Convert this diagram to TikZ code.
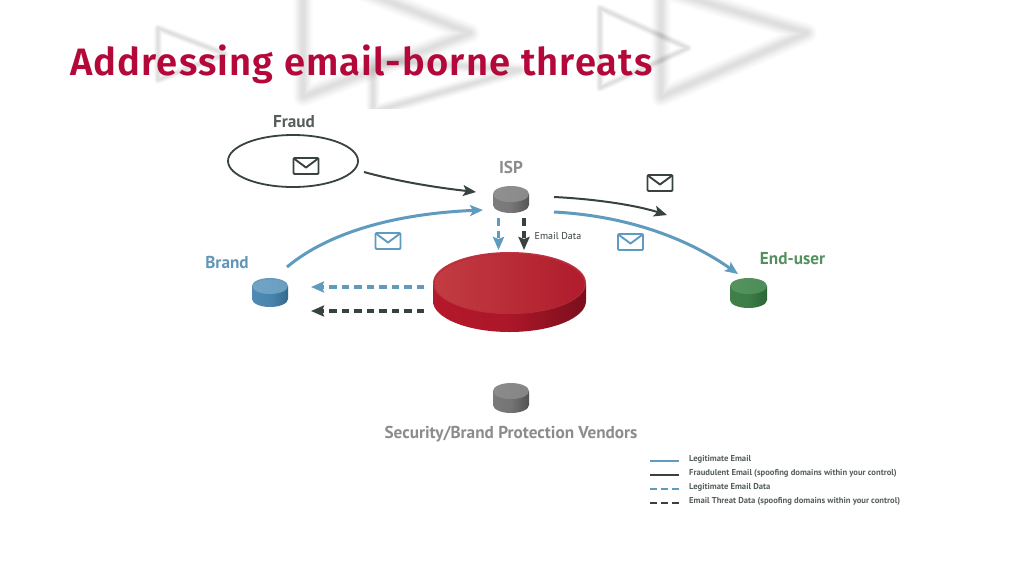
\documentclass[tikz,border=0pt]{standalone}
\usepackage{fontspec}
\setmainfont{PT Sans}
\newfontfamily\titlefont[BoldFont={Fira Sans SemiBold},LetterSpace=3]{Fira Sans}
\usetikzlibrary{arrows.meta,shapes.geometric}
\definecolor{titlered}{HTML}{B5083A}
\definecolor{linkblue}{HTML}{5F9ABF}
\definecolor{linkdark}{HTML}{38423F}
\definecolor{isptext}{HTML}{8C8C8C}
\definecolor{brandtext}{HTML}{6296B8}
\definecolor{usertext}{HTML}{54905F}
\definecolor{storetopl}{HTML}{C23C42}
\definecolor{storetopr}{HTML}{B01C2C}
\tikzset{
  solidlink/.style={draw=#1,line width=2pt,-{Stealth[length=13pt,width=11pt,inset=3pt]}},
  dashlink/.style={draw=#1,line width=3.2pt,dash pattern=on 7.5pt off 5pt,-{Stealth[length=13pt,width=11pt,inset=2pt]}},
  legendsolid/.style={draw=#1,line width=2pt},
  legenddash/.style={draw=#1,line width=2pt,dash pattern=on 7pt off 4pt},
  legendtext/.style={anchor=west,inner sep=0pt,font=\fontsize{8.6}{10}\selectfont\bfseries,text=#1},
  labeltext/.style={inner sep=0pt,font=\fontsize{17.2}{20}\selectfont\bfseries,text=#1},
  envelope/.style={draw=#1,line width=1.9pt,rounded corners=1pt,line join=round},
}
% name, cx, cy of top ellipse, rx, ry, height, side light, side dark, top colour
\newcommand{\cylshape}[9]{%
  \definecolor{cylA}{HTML}{#7}\definecolor{cylB}{HTML}{#8}\definecolor{cylC}{HTML}{#9}%
  \node[inner sep=0pt,minimum width=#4*2pt,minimum height=#5*2pt+#6pt] (#1) at (#2,#3+#6/2) {};
  \path[left color=cylA,right color=cylB,middle color=cylA!85!cylB]
    (#2-#4,#3) -- (#2-#4,#3+#6)
    .. controls (#2-#4,#3+#6+0.55*#5) and (#2-0.55*#4,#3+#6+#5) .. (#2,#3+#6+#5)
    .. controls (#2+0.55*#4,#3+#6+#5) and (#2+#4,#3+#6+0.55*#5) .. (#2+#4,#3+#6)
    -- (#2+#4,#3) -- cycle;
  \path[fill=cylA!88!white] (#2,#3) ellipse [x radius=#4,y radius=#5];
  \path[left color=cylC!95!white,right color=cylC] (#2,#3+0.6) ellipse [x radius=#4-1,y radius=#5-0.8];
}
\newcommand{\envshape}[3]{%
  \node[inner sep=0pt,minimum width=25pt,minimum height=16pt] (#1) at (#2,#3) {};
  \draw[envelope=\envcol] (#2-12.5,#3-8) rectangle (#2+12.5,#3+8);
  \draw[draw=\envcol,line width=1.9pt,line join=round] (#2-11.5,#3-7) -- (#2,#3+1.5) -- (#2+11.5,#3-7);
}
\newcommand{\chev}[6]{%
  \foreach \w in {2.8,2.4,2.0,1.7,1.4,1.1,0.8,0.5}{
    \pgfmathsetlengthmacro{\wd}{\w*#6}
    \draw[black,opacity=.017,line width=\wd,line join=round] (#1,#2) -- (#3,#4) -- (#1,#5) -- cycle;
  }
}
\begin{document}
\begin{tikzpicture}[x=1pt,y=-1pt]
\useasboundingbox (0,0) rectangle (1024,576);
\fill[white] (0,0) rectangle (1024,576);
% faded background chevrons
\begin{scope}
  \clip (0,0) rectangle (1024,108);
  \chev{158}{28}{225}{54}{80}{3}
  \chev{303}{-32}{470}{33}{97}{7}
  \chev{373}{60}{520}{70}{112}{5}
  \chev{600}{8}{688}{48}{88}{3}
  \chev{661}{-11}{807}{33}{97}{7}
\end{scope}
% title
\node[anchor=base west,inner sep=0pt,font=\titlefont\fontsize{38.2}{42}\selectfont\bfseries,text=titlered] (title) at (70,75.5) {Addressing email-borne threats};
% labels
\node[labeltext=linkdark!85!white] (fraudlabel) at (294,122) {Fraud};
\node[labeltext=isptext] (isplabel) at (511,167) {ISP};
\node[labeltext=brandtext] (brandlabel) at (227,263) {Brand};
\node[labeltext=usertext] (userlabel) at (792.5,259) {End-user};
\node[labeltext=isptext] (vendorlabel) at (511,434) {Security/Brand Protection Vendors};
\node[anchor=west,inner sep=0pt,font=\fontsize{10}{12}\selectfont,text=linkdark] (datalabel) at (534.5,236) {Email Data};
% fraud ellipse
\node[draw=linkdark,line width=1.8pt,ellipse,minimum width=130pt,minimum height=52pt,inner sep=0pt] (fraud) at (293,161) {};
% cylinders
\cylshape{isp}{511}{194}{18}{8}{11}{7D7D7D}{555555}{8A8A8A}
\cylshape{vendor}{511}{391}{18}{8}{14}{7A7A7A}{525252}{858585}
\cylshape{brand}{270}{286}{18}{8}{13}{4F8AB3}{33698E}{6A9FC2}
\cylshape{user}{748.5}{286}{18.5}{8}{14}{3F8049}{2C6637}{4C8D57}
\cylshape{store}{509.5}{283}{76.5}{31}{18}{B4182B}{7A0F1C}{B5252F}
\path[left color=storetopl,right color=storetopr] (509.5,283.8) ellipse [x radius=74.5,y radius=29.5];
% envelopes
\def\envcol{linkdark}
\envshape{envfraud}{306}{166}
\envshape{envout}{660}{183}
\def\envcol{linkblue}
\envshape{envbrand}{388}{241}
\envshape{envuser}{630.5}{242}
% free ends
\coordinate (c1) at (364,172);
\coordinate (c2) at (476,192);
\coordinate (c3) at (287,267);
\coordinate (c4) at (483,210);
\coordinate (c5) at (554,197);
\coordinate (c6) at (667,215);
\coordinate (c7) at (554,212);
\coordinate (c8) at (738,274);
\coordinate (c9) at (498.5,218);
\coordinate (c10) at (498.5,250);
\coordinate (c11) at (524,218);
\coordinate (c12) at (524,250);
\coordinate (c13) at (424,287);
\coordinate (c14) at (311,287);
\coordinate (c15) at (424,311);
\coordinate (c16) at (311,311);
% connectors
\draw[solidlink=linkdark] (c1) .. controls (400,182) and (440,188) .. (c2);
\draw[solidlink=linkblue,line width=3pt] (c3) .. controls (335,227) and (410,213) .. (c4);
\draw[solidlink=linkdark] (c5) .. controls (595,199) and (635,205) .. (c6);
\draw[solidlink=linkblue,line width=3pt] (c7) .. controls (630,216) and (690,240) .. (c8);
\draw[dashlink=linkblue] (c9) -- (c10);
\draw[dashlink=linkdark] (c11) -- (c12);
\draw[dashlink=linkblue] (c13) -- (c14);
\draw[dashlink=linkdark] (c15) -- (c16);
% legend
\coordinate (l1a) at (650,461); \coordinate (l1b) at (679,461);
\coordinate (l2a) at (650,475); \coordinate (l2b) at (679,475);
\coordinate (l3a) at (650,489); \coordinate (l3b) at (679,489);
\coordinate (l4a) at (650,503); \coordinate (l4b) at (679,503);
\draw[legendsolid=linkblue] (l1a) -- (l1b);
\draw[legendsolid=linkdark] (l2a) -- (l2b);
\draw[legenddash=linkblue] (l3a) -- (l3b);
\draw[legenddash=linkdark] (l4a) -- (l4b);
\node[legendtext=linkdark!85!white] (t1) at (689,459) {Legitimate Email};
\node[legendtext=linkdark!85!white] (t2) at (689,473) {Fraudulent Email (spoofing domains within your control)};
\node[legendtext=linkdark!85!white] (t3) at (689,487) {Legitimate Email Data};
\node[legendtext=linkdark!85!white] (t4) at (689,501) {Email Threat Data (spoofing domains within your control)};
\end{tikzpicture}
\end{document}
